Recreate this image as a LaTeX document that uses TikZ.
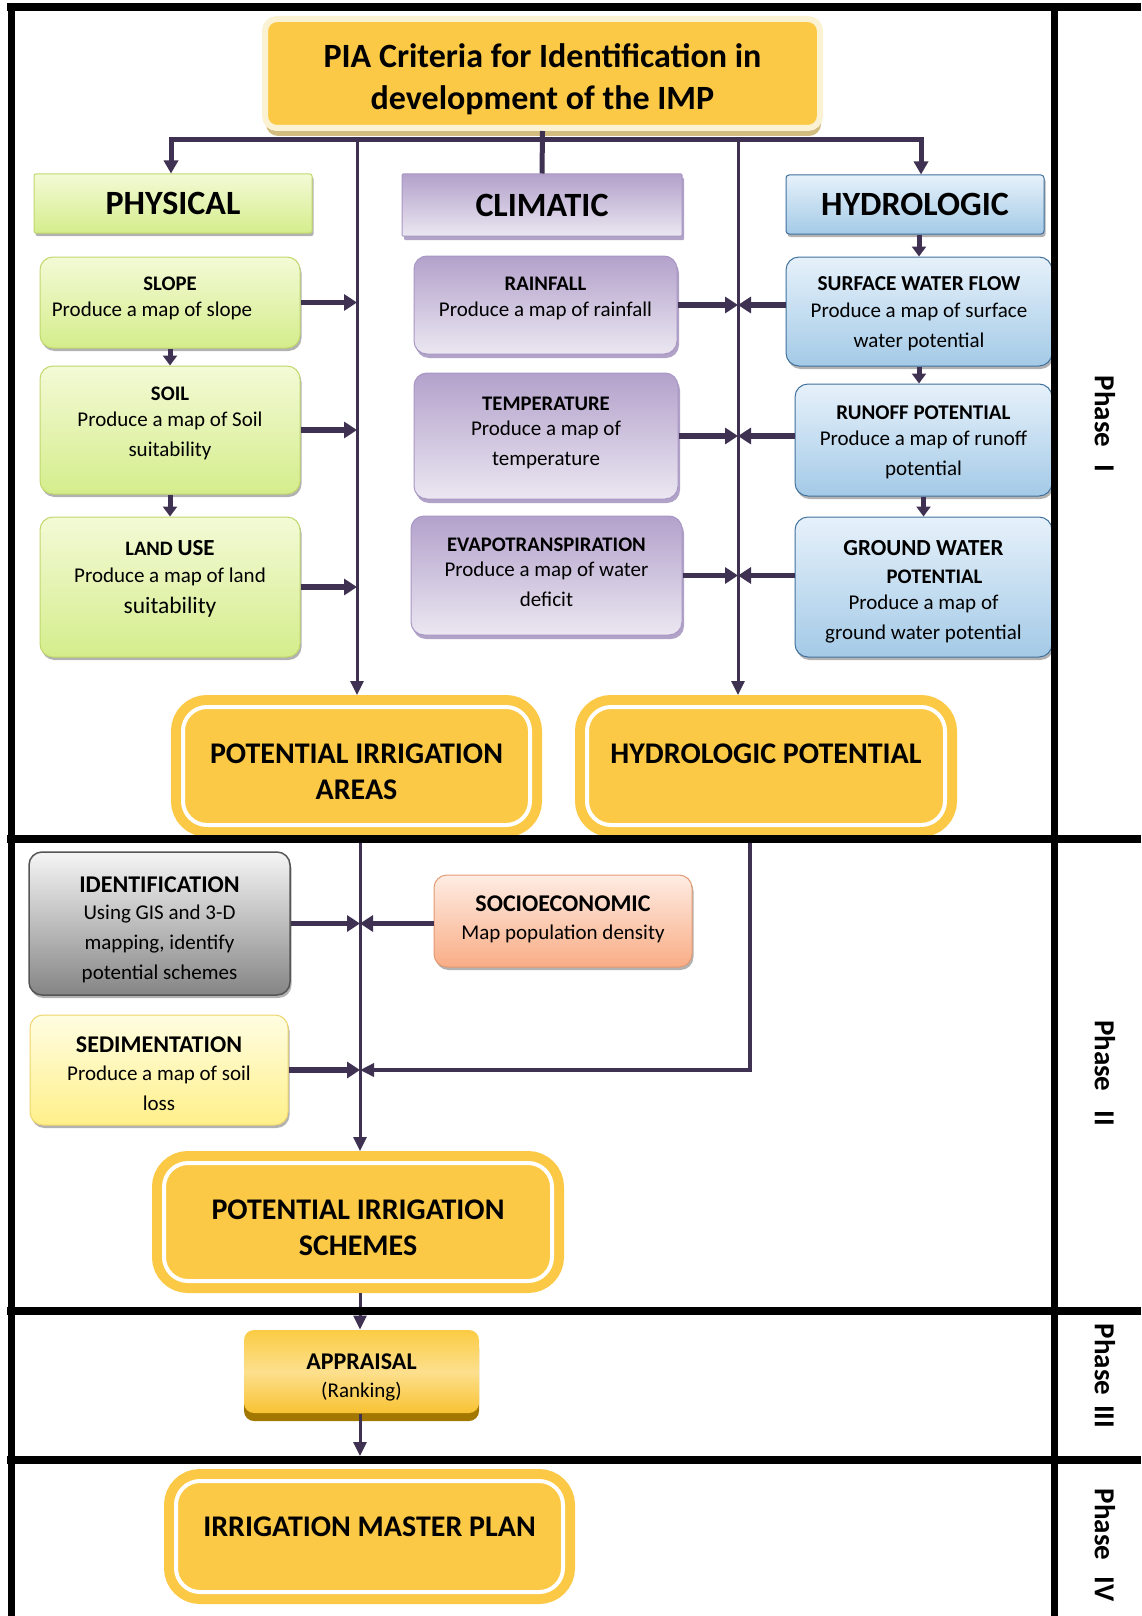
\documentclass[tikz,border=0pt]{standalone}
\usepackage{fontspec}
\setmainfont{Carlito}
\usetikzlibrary{arrows.meta,shadows}
\definecolor{linec}{HTML}{3F3151}
\definecolor{gold}{HTML}{FCC946}
\definecolor{cream}{HTML}{FBF1D3}
\definecolor{tanc}{HTML}{D2BC80}
\definecolor{greenT}{HTML}{F3FAD6}
\definecolor{greenB}{HTML}{D5ED8C}
\definecolor{greenD}{HTML}{C0D86C}
\definecolor{purT}{HTML}{B3A1CB}
\definecolor{purB}{HTML}{EBE7F1}
\definecolor{purD}{HTML}{A897C4}
\definecolor{purS}{HTML}{9E8DB9}
\definecolor{bluT}{HTML}{E6F1FA}
\definecolor{bluB}{HTML}{A4CAE7}
\definecolor{bluD}{HTML}{41719C}
\definecolor{grayT}{HTML}{F5F5F5}
\definecolor{grayB}{HTML}{858585}
\definecolor{grayD}{HTML}{555555}
\definecolor{peachT}{HTML}{FEECE3}
\definecolor{peachB}{HTML}{F9AD86}
\definecolor{peachD}{HTML}{E49A73}
\definecolor{yelT}{HTML}{FFFDE2}
\definecolor{yelB}{HTML}{FFF08A}
\definecolor{yelD}{HTML}{EFD56B}
\definecolor{apT}{HTML}{FBCB43}
\definecolor{apM}{HTML}{FDE08E}
\definecolor{apB}{HTML}{F8C233}
\definecolor{apS}{HTML}{A37800}
\newcommand\bxhead[1]{{\fontsize{20.7}{27}\selectfont\bfseries #1}}
\newcommand\bxheadb[1]{{\fontsize{24}{27}\selectfont\bfseries #1}}
\begin{document}
\begin{tikzpicture}[x=1pt,y=-1pt,
 subbox/.style={rounded corners=13pt, line width=1pt, inner sep=0pt},
 btxt/.style={align=center, inner sep=0pt, font=\fontsize{21}{30}\selectfont},
 shad/.style={drop shadow={shadow xshift=1.5pt,shadow yshift=-3pt,opacity=0.3,fill=black}},
 greenbox/.style={subbox, shad, draw=greenD, top color=greenT, bottom color=greenB},
 purbox/.style={subbox, drop shadow={shadow xshift=2pt,shadow yshift=-4pt,opacity=0.8,fill=purS}, draw=purD, top color=purT, bottom color=purB},
 blubox/.style={subbox, shad, draw=bluD, top color=bluT, bottom color=bluB},
 graybox/.style={subbox, shad, draw=grayD, line width=1.5pt, top color=grayT, bottom color=grayB},
 peachbox/.style={subbox, shad, draw=peachD, top color=peachT, bottom color=peachB},
 yelbox/.style={subbox, shad, draw=yelD, top color=yelT, bottom color=yelB},
 catfont/.style={font=\fontsize{34}{40}\selectfont\bfseries},
 goldbox/.style={draw=gold, line width=10pt, double=white, double distance=4pt, fill=gold, rounded corners=24pt, outer sep=12pt, inner sep=0pt, align=center, font=\fontsize{30}{36}\selectfont\bfseries},
 goldtxt/.style={align=center, inner sep=0pt, font=\fontsize{30}{36}\selectfont\bfseries},
 barline/.style={draw=linec, line width=5pt},
 feed/.style={draw=linec, line width=5.5pt, -{Triangle[length=13pt,width=16pt]}},
 shortarr/.style={draw=linec, line width=5pt, -{Triangle[length=10pt,width=14pt]}},
 thinarr/.style={draw=linec, line width=3pt, -{Triangle[length=14pt,width=13pt]}},
 rule/.style={draw=black, line width=#1},
 phaselbl/.style={rotate=-90, font=\fontsize{29}{30}\selectfont\bfseries}
]
\useasboundingbox (0,0) rectangle (1141,1616);
\fill[white] (0,0) rectangle (1141,1616);

% title
\node[draw=cream, line width=6pt, fill=gold, rounded corners=12pt, minimum width=555pt, minimum height=109pt, inner sep=0pt, drop shadow={shadow xshift=1pt, shadow yshift=-8pt, opacity=1, fill=tanc}] (title) at (542.5,73.5) {};
\node[align=center, inner sep=0pt, font=\fontsize{34}{42}\selectfont\bfseries] (titlet) at (542.5,79.7) {PIA Criteria for Identification in\\development of the IMP};

% categories
\node[greenbox, catfont, rounded corners=2pt, minimum width=278pt, minimum height=59pt] (phys) at (173,203.5) {PHYSICAL};
\node[purbox, catfont, rounded corners=1pt, minimum width=280pt, minimum height=62pt] (clim) at (542,205) {CLIMATIC};
\node[blubox, catfont, rounded corners=3pt, minimum width=258pt, minimum height=59pt] (hydro) at (915,204.5) {HYDROLOGIC};

% physical
\node[greenbox, minimum width=260pt, minimum height=91pt] (slope) at (170,302.5) {};
\node[btxt] (slopet) at (170,298.4) {\bxhead{SLOPE}\\[-4pt]Produce a map of slope\hspace*{36pt}};
\node[greenbox, minimum width=260pt, minimum height=128pt] (soil) at (170,430) {};
\node[btxt] (soilt) at (170,423.8) {\bxhead{SOIL}\\[-4pt]Produce a map of Soil\\suitability};
\node[greenbox, minimum width=260pt, minimum height=140pt] (land) at (170,587) {};
\node[btxt] (landt) at (170,579.3) {{\fontsize{20.5}{27}\selectfont\bfseries LAND \fontsize{23}{27}\selectfont USE}\\[-3pt]Produce a map of land\\[1pt]{\fontsize{23.5}{31}\selectfont suitability}};

% climatic
\node[purbox, minimum width=263pt, minimum height=98pt] (rain) at (545.5,305) {};
\node[btxt] (raint) at (545.5,298.8) {\bxhead{RAINFALL}\\[-4pt]Produce a map of rainfall};
\node[purbox, minimum width=264pt, minimum height=126pt] (temp) at (546,436) {};
\node[btxt] (tempt) at (546,432.9) {\bxhead{TEMPERATURE}\\[-5pt]Produce a map of\\temperature};
\node[purbox, minimum width=271pt, minimum height=119pt] (evap) at (546.5,575.5) {};
\node[btxt] (evapt) at (546.5,571.9) {\bxhead{EVAPOTRANSPIRATION}\\[-5pt]Produce a map of water\\deficit};

% hydrologic
\node[blubox, minimum width=266pt, minimum height=109pt] (swf) at (919,311.5) {};
\node[btxt] (swft) at (919,314.1) {{\fontsize{21.3}{27}\selectfont\bfseries SURFACE WATER FLOW}\\[-3pt]Produce a map of surface\\water potential};
\node[blubox, minimum width=257pt, minimum height=112pt] (runoff) at (923.5,440) {};
\node[btxt] (runofft) at (923.5,442) {{\fontsize{21}{27}\selectfont\bfseries RUNOFF POTENTIAL}\\[-4pt]Produce a map of runoff\\potential};
\node[blubox, minimum width=257pt, minimum height=140pt] (gw) at (923.5,587) {};
\node[btxt, font=\fontsize{21}{28}\selectfont] (gwt) at (923.5,591.6) {{\fontsize{23}{27}\selectfont\bfseries GROUND WATER}\\\hspace*{22pt}\bxhead{POTENTIAL}\\[-2pt]Produce a map of\\[2pt]ground water potential};

% phase I results
\node[goldbox, minimum width=347pt, minimum height=118pt] (pia) at (356.5,766) {};
\node[goldtxt] (piat) at (356.5,772.2) {POTENTIAL IRRIGATION\\AREAS};
\node[goldbox, minimum width=358pt, minimum height=118pt, text height=19pt, text depth=24pt] (hpot) at (766,766) {HYDROLOGIC POTENTIAL};

% phase II
\node[graybox, minimum width=261pt, minimum height=143pt] (ident) at (159.5,923.5) {};
\node[btxt] (identt) at (159.5,930.2) {\bxheadb{IDENTIFICATION}\\[-3pt]Using GIS and 3-D\\mapping, identify\\potential schemes};
\node[peachbox, minimum width=258pt, minimum height=92pt] (socio) at (563,921) {};
\node[btxt] (sociot) at (563,918.9) {\bxheadb{SOCIOECONOMIC}\\[-2pt]Map population density};
\node[yelbox, minimum width=258pt, minimum height=110pt] (sed) at (159,1070) {};
\node[btxt] (sedt) at (159,1073.6) {\bxheadb{SEDIMENTATION}\\[-2pt]Produce a map of soil\\loss};
\node[goldbox, minimum width=388pt, minimum height=118pt] (pis) at (358,1222) {};
\node[goldtxt] (pist) at (358,1228.2) {POTENTIAL IRRIGATION\\SCHEMES};

% phase III
\node[subbox, rounded corners=10pt, top color=apT, bottom color=apB, middle color=apM, minimum width=235pt, minimum height=83pt, drop shadow={shadow xshift=0pt, shadow yshift=-8pt, opacity=1, fill=apS}] (appr) at (361.5,1371.5) {};
\node[btxt] (apprt) at (361.5,1377.2) {\bxheadb{APPRAISAL}\\[-2pt](Ranking)};

% phase IV
\node[goldbox, minimum width=387pt, minimum height=111pt, text height=19pt, text depth=19pt] (imp) at (369.5,1536.5) {IRRIGATION MASTER PLAN};

% connectors
\coordinate (bl) at (171,140);
\coordinate (br) at (921,140);
\coordinate (v1) at (357,140);
\coordinate (v2) at (738,140);
\draw[barline] (title.south) -- (clim.north);
\draw[barline, {Triangle[length=13pt,width=14pt]}-{Triangle[length=13pt,width=14pt]}] (bl |- phys.north) -- (bl) -- (br) -- (br |- hydro.north);
\draw[thinarr] (v1) -- (v1 |- pia.north);
\draw[thinarr] (v2) -- (v2 |- hpot.north);

\draw[shortarr] (slope.south) -- (soil.north);
\draw[shortarr] (soil.south) -- (land.north);
\draw[shortarr] (swf.north |- hydro.south) -- (swf.north);
\draw[shortarr] (swf.south) -- (swf.south |- runoff.north);
\draw[shortarr] (runoff.south) -- (gw.north);

\draw[feed] (slope.east) -- (slope.east -| v1);
\draw[feed] (soil.east) -- (soil.east -| v1);
\draw[feed] (land.east) -- (land.east -| v1);
\draw[feed] (rain.east) -- (rain.east -| v2);
\draw[feed] (temp.east) -- (temp.east -| v2);
\draw[feed] (evap.east) -- (evap.east -| v2);
\draw[feed] (swf.west |- rain.east) -- (v2 |- rain.east);
\draw[feed] (runoff.west |- temp.east) -- (v2 |- temp.east);
\draw[feed] (gw.west |- evap.east) -- (v2 |- evap.east);

\coordinate (m2) at (360,839);
\coordinate (r2) at (750,839);
\draw[thinarr] (m2) -- (m2 |- pis.north);
\draw[feed] (ident.east) -- (ident.east -| m2);
\draw[feed] (socio.west |- ident.east) -- (m2 |- ident.east);
\draw[feed] (sed.east) -- (sed.east -| m2);
\draw[thinarr, line width=4pt] (r2) |- (sed.east -| m2);

\draw[thinarr] (m2 |- pis.south) -- (m2 |- appr.north);
\coordinate (ap4) at (360,1456);
\draw[thinarr] (m2 |- appr.south) -- (ap4);

% phase labels
\node[phaselbl] (ph1) at (1105,424) {Phase\hspace{17pt}I};
\node[phaselbl] (ph2) at (1105,1073) {Phase\hspace{19pt}II};
\node[phaselbl] (ph3) at (1105,1376) {Phase\hspace{10pt}III};
\node[phaselbl] (ph4) at (1105,1545) {Phase\hspace{16pt}IV};

% frame
\draw[rule=7pt] (11,3) -- (11,1616);
\draw[rule=8pt] (7,7) -- (1141,7);
\draw[rule=7pt] (1054,3) -- (1054,1616);
\draw[rule=8pt] (7,839) -- (1141,839);
\draw[rule=8pt] (7,1311) -- (1141,1311);
\draw[rule=8pt] (7,1460) -- (1141,1460);
\end{tikzpicture}
\end{document}
